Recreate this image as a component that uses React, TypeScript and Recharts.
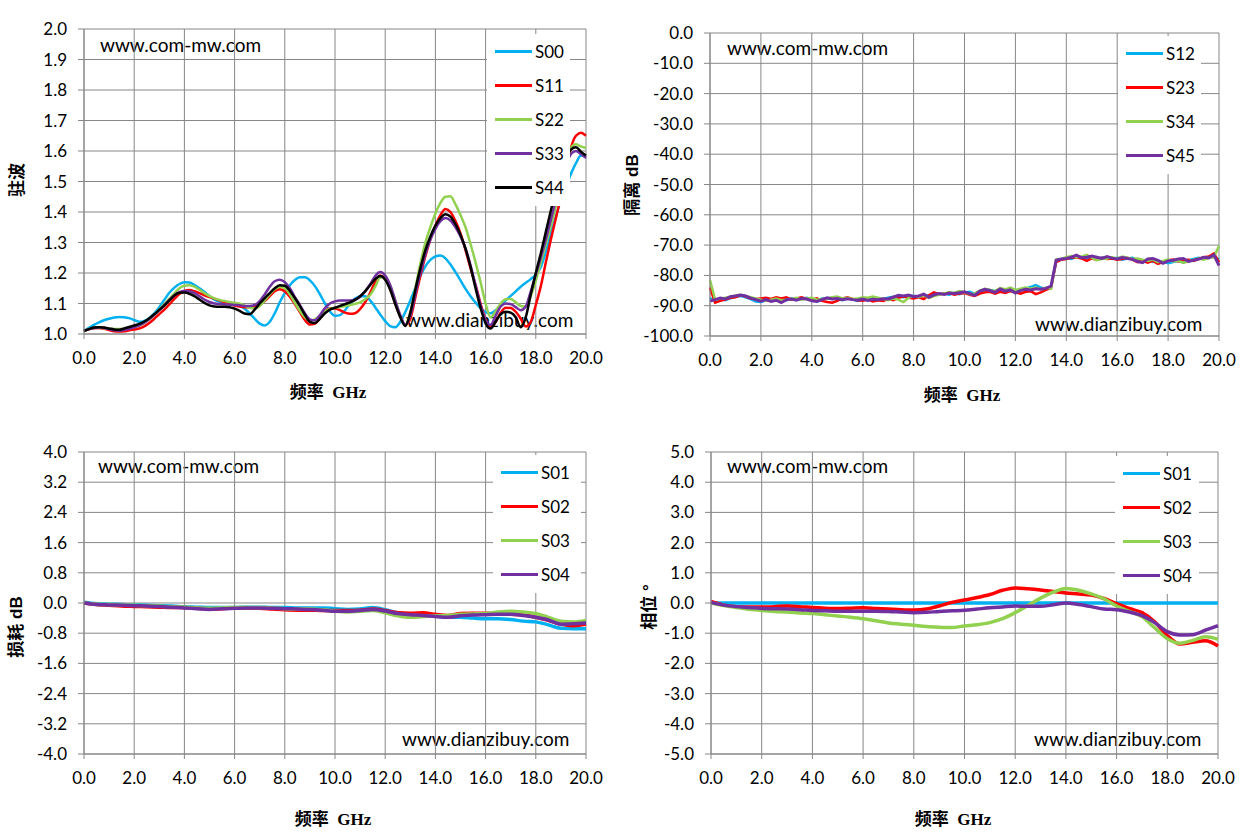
import React from 'react';
import { LineChart, Line, XAxis, YAxis, CartesianGrid, Legend } from 'recharts';

// frequency grid (GHz) used by the VSWR and isolation plots
const FREQ_A = [
  0, 0.2, 0.4, 0.6, 0.8, 1, 1.2, 1.4, 1.6, 1.8,
  2, 2.2, 2.4, 2.6, 2.8, 3, 3.2, 3.4, 3.6, 3.8,
  4, 4.2, 4.4, 4.6, 4.8, 5, 5.2, 5.4, 5.6, 5.8,
  6, 6.2, 6.4, 6.6, 6.8, 7, 7.2, 7.4, 7.6, 7.8,
  8, 8.2, 8.4, 8.6, 8.8, 9, 9.2, 9.4, 9.6, 9.8,
  10, 10.2, 10.4, 10.6, 10.8, 11, 11.2, 11.4, 11.6, 11.8,
  12, 12.2, 12.4, 12.6, 12.8, 13, 13.2, 13.4, 13.6, 13.8,
  14, 14.2, 14.4, 14.6, 14.8, 15, 15.2, 15.4, 15.6, 15.8,
  16, 16.2, 16.4, 16.6, 16.8, 17, 17.2, 17.4, 17.6, 17.8,
  18, 18.2, 18.4, 18.6, 18.8, 19, 19.2, 19.4, 19.6, 19.8,
  20,
];

// VSWR
const S00 = [
  1.010, 1.020, 1.030, 1.038, 1.045, 1.050, 1.054, 1.056, 1.055, 1.052,
  1.046, 1.040, 1.043, 1.052, 1.068, 1.088, 1.112, 1.135, 1.152, 1.164,
  1.170, 1.169, 1.161, 1.150, 1.138, 1.124, 1.113, 1.106, 1.102, 1.099,
  1.096, 1.092, 1.083, 1.068, 1.050, 1.034, 1.028, 1.040, 1.068, 1.104,
  1.135, 1.160, 1.177, 1.186, 1.186, 1.176, 1.157, 1.130, 1.100, 1.074,
  1.060, 1.062, 1.078, 1.100, 1.116, 1.124, 1.124, 1.110, 1.088, 1.064,
  1.042, 1.026, 1.022, 1.040, 1.072, 1.110, 1.150, 1.190, 1.222, 1.243,
  1.254, 1.257, 1.248, 1.228, 1.203, 1.176, 1.148, 1.124, 1.103, 1.085,
  1.072, 1.068, 1.078, 1.094, 1.110, 1.125, 1.140, 1.155, 1.168, 1.180,
  1.195, 1.220, 1.270, 1.330, 1.385, 1.440, 1.485, 1.525, 1.560, 1.585,
  1.580,
];
const S11 = [
  1.010, 1.016, 1.019, 1.020, 1.017, 1.013, 1.009, 1.008, 1.009, 1.012,
  1.015, 1.018, 1.025, 1.036, 1.050, 1.065, 1.080, 1.097, 1.115, 1.131,
  1.141, 1.144, 1.140, 1.134, 1.127, 1.121, 1.116, 1.110, 1.104, 1.098,
  1.093, 1.090, 1.088, 1.088, 1.090, 1.096, 1.108, 1.124, 1.140, 1.147,
  1.140, 1.122, 1.098, 1.072, 1.046, 1.031, 1.034, 1.052, 1.074, 1.084,
  1.084, 1.078, 1.070, 1.066, 1.068, 1.082, 1.104, 1.135, 1.170, 1.192,
  1.182, 1.148, 1.100, 1.058, 1.030, 1.050, 1.120, 1.190, 1.255, 1.310,
  1.355, 1.390, 1.410, 1.400, 1.370, 1.330, 1.275, 1.215, 1.160, 1.100,
  1.045, 1.022, 1.040, 1.070, 1.086, 1.085, 1.073, 1.050, 1.025, 1.040,
  1.095, 1.157, 1.235, 1.310, 1.380, 1.450, 1.530, 1.610, 1.650, 1.660,
  1.650,
];
const S22 = [
  1.010, 1.016, 1.020, 1.021, 1.019, 1.017, 1.016, 1.016, 1.018, 1.021,
  1.024, 1.028, 1.036, 1.048, 1.063, 1.080, 1.098, 1.116, 1.133, 1.150,
  1.158, 1.160, 1.155, 1.145, 1.134, 1.124, 1.117, 1.112, 1.108, 1.105,
  1.102, 1.099, 1.093, 1.086, 1.084, 1.092, 1.110, 1.130, 1.147, 1.155,
  1.150, 1.130, 1.102, 1.076, 1.055, 1.045, 1.048, 1.060, 1.074, 1.082,
  1.086, 1.089, 1.092, 1.095, 1.099, 1.104, 1.114, 1.128, 1.155, 1.185,
  1.186, 1.158, 1.110, 1.060, 1.030, 1.070, 1.150, 1.230, 1.300, 1.350,
  1.395, 1.430, 1.450, 1.452, 1.425, 1.390, 1.350, 1.295, 1.235, 1.170,
  1.100, 1.055, 1.075, 1.100, 1.114, 1.115, 1.104, 1.092, 1.090, 1.125,
  1.175, 1.235, 1.295, 1.355, 1.420, 1.480, 1.550, 1.610, 1.622, 1.615,
  1.610,
];
const S33 = [
  1.010, 1.016, 1.020, 1.022, 1.020, 1.016, 1.012, 1.011, 1.013, 1.017,
  1.022, 1.028, 1.037, 1.049, 1.063, 1.078, 1.095, 1.112, 1.127, 1.137,
  1.141, 1.140, 1.134, 1.124, 1.113, 1.105, 1.100, 1.098, 1.097, 1.096,
  1.095, 1.094, 1.092, 1.092, 1.095, 1.108, 1.130, 1.155, 1.173, 1.178,
  1.170, 1.150, 1.122, 1.095, 1.068, 1.048, 1.045, 1.062, 1.085, 1.100,
  1.107, 1.110, 1.110, 1.110, 1.113, 1.122, 1.140, 1.163, 1.190, 1.203,
  1.192, 1.160, 1.110, 1.062, 1.030, 1.060, 1.130, 1.200, 1.262, 1.310,
  1.345, 1.370, 1.380, 1.372, 1.350, 1.320, 1.280, 1.225, 1.160, 1.095,
  1.045, 1.030, 1.060, 1.090, 1.100, 1.098, 1.088, 1.078, 1.090, 1.140,
  1.195, 1.250, 1.310, 1.374, 1.440, 1.500, 1.550, 1.590, 1.600, 1.590,
  1.577,
];
const S44 = [
  1.010, 1.016, 1.021, 1.022, 1.021, 1.018, 1.015, 1.014, 1.018, 1.023,
  1.028, 1.033, 1.041, 1.052, 1.065, 1.079, 1.093, 1.110, 1.126, 1.135,
  1.136, 1.132, 1.124, 1.113, 1.102, 1.094, 1.090, 1.089, 1.089, 1.088,
  1.083, 1.076, 1.067, 1.065, 1.080, 1.100, 1.118, 1.134, 1.150, 1.160,
  1.158, 1.142, 1.118, 1.092, 1.063, 1.040, 1.036, 1.050, 1.068, 1.080,
  1.086, 1.092, 1.098, 1.104, 1.112, 1.124, 1.140, 1.160, 1.180, 1.190,
  1.178, 1.145, 1.098, 1.055, 1.026, 1.070, 1.145, 1.215, 1.275, 1.320,
  1.355, 1.380, 1.393, 1.385, 1.360, 1.325, 1.280, 1.220, 1.150, 1.085,
  1.035, 1.018, 1.040, 1.065, 1.073, 1.070, 1.055, 1.022, 1.055, 1.130,
  1.200, 1.265, 1.335, 1.405, 1.470, 1.530, 1.575, 1.605, 1.612, 1.598,
  1.585,
];

// isolation, dB
const S12 = [
  -87.5, -88.4, -87.8, -88.2, -87.6, -87.0, -86.8, -87.2, -87.8, -88.6,
  -88.8, -88.2, -88.4, -88.0, -88.6, -88.2, -87.6, -88.0, -87.8, -87.4,
  -88.0, -88.2, -87.6, -87.8, -87.4, -87.8, -88.2, -87.6, -87.9, -88.4,
  -88.0, -88.0, -87.6, -88.2, -87.8, -87.4, -87.0, -86.8, -87.2, -86.6,
  -86.8, -87.0, -86.4, -86.8, -85.8, -86.2, -86.0, -86.4, -85.8, -86.2,
  -85.6, -85.4, -86.0, -85.4, -85.0, -84.8, -85.2, -84.6, -84.8, -84.4,
  -85.2, -84.8, -84.4, -83.8, -83.2, -84.0, -84.6, -83.8, -75.4, -74.8,
  -74.2, -74.6, -73.8, -74.0, -74.4, -74.0, -74.6, -74.2, -74.0, -74.6,
  -74.2, -74.8, -74.4, -74.2, -75.0, -75.4, -75.0, -75.6, -75.2, -75.4,
  -76.0, -75.6, -75.2, -75.8, -75.0, -74.6, -74.2, -74.6, -73.8, -73.6,
  -74.8,
];
const S23 = [
  -84.0, -89.0, -88.4, -88.0, -87.4, -87.2, -86.6, -87.0, -87.6, -87.8,
  -87.6, -87.4, -87.8, -87.2, -87.6, -87.2, -88.0, -87.6, -87.2, -87.8,
  -88.0, -87.6, -88.4, -88.8, -89.0, -88.4, -87.6, -87.2, -87.8, -88.2,
  -88.4, -88.0, -88.6, -88.2, -88.4, -87.8, -88.2, -87.4, -87.0, -87.4,
  -87.6, -87.2, -87.8, -86.6, -85.6, -86.2, -86.0, -85.8, -86.4, -86.0,
  -85.8, -86.4, -86.8, -86.0, -85.6, -85.4, -86.0, -85.4, -85.8, -85.2,
  -85.6, -86.0, -85.4, -85.2, -86.2, -85.6, -84.8, -84.2, -75.6, -74.8,
  -74.6, -74.2, -74.0, -74.4, -75.2, -74.4, -74.8, -74.2, -74.6, -74.4,
  -74.8, -74.6, -74.2, -74.8, -75.6, -75.2, -75.8, -75.2, -76.2, -75.6,
  -75.0, -74.8, -75.4, -75.0, -74.8, -75.2, -74.6, -74.0, -73.8, -72.8,
  -75.6,
];
const S34 = [
  -81.5, -88.0, -87.6, -87.4, -87.0, -86.6, -86.4, -86.8, -87.2, -87.6,
  -88.0, -88.4, -88.0, -87.6, -88.2, -88.0, -87.8, -87.4, -88.0, -87.6,
  -87.4, -88.0, -87.8, -87.6, -87.2, -87.0, -87.6, -87.4, -87.8, -87.6,
  -87.2, -87.4, -87.0, -87.4, -87.8, -88.2, -87.6, -88.0, -88.8, -87.4,
  -86.8, -87.2, -86.6, -87.4, -86.8, -86.4, -86.0, -85.6, -85.8, -85.2,
  -85.6, -86.2, -86.0, -85.0, -84.4, -84.8, -85.2, -84.2, -84.6, -84.0,
  -84.8, -84.4, -84.0, -84.4, -84.0, -84.6, -84.0, -84.4, -74.8, -74.6,
  -74.0, -73.6, -74.0, -73.8, -73.2, -74.2, -75.0, -74.6, -74.4, -74.0,
  -74.4, -73.8, -74.2, -74.6, -74.4, -74.8, -75.2, -74.8, -75.6, -75.2,
  -74.8, -75.4, -75.2, -75.8, -75.4, -74.8, -74.4, -74.8, -74.2, -74.0,
  -70.2,
];
const S45 = [
  -88.5, -88.0, -87.5, -87.8, -87.0, -86.8, -86.5, -86.8, -87.5, -88.0,
  -88.5, -88.0, -88.6, -88.2, -89.0, -88.0, -87.8, -88.2, -87.6, -87.8,
  -88.4, -88.6, -88.0, -87.4, -87.8, -87.6, -88.0, -87.7, -88.0, -88.2,
  -87.8, -88.3, -87.9, -88.0, -87.7, -87.8, -87.2, -86.6, -86.8, -86.5,
  -87.0, -86.8, -86.2, -87.2, -86.4, -86.0, -86.3, -85.8, -86.0, -85.7,
  -85.4, -86.0, -86.6, -85.2, -84.6, -85.0, -85.6, -84.5, -85.2, -84.8,
  -85.8, -85.0, -84.6, -84.8, -84.4, -84.6, -84.3, -83.5, -75.0, -74.6,
  -74.4, -74.0, -73.3, -74.2, -74.0, -73.6, -74.0, -74.4, -73.8, -74.3,
  -74.6, -74.1, -74.4, -74.7, -75.4, -75.8, -74.6, -74.4, -75.0, -76.0,
  -75.2, -75.0, -74.6, -74.4, -75.4, -75.0, -74.6, -74.0, -74.2, -73.2,
  -76.8,
];

// coarser grid for the loss and phase plots
const FREQ_B = [
  0, 0.5, 1, 1.5, 2, 2.5, 3, 3.5, 4, 4.5,
  5, 5.5, 6, 6.5, 7, 7.5, 8, 8.5, 9, 9.5,
  10, 10.5, 11, 11.5, 12, 12.5, 13, 13.5, 14, 14.5,
  15, 15.5, 16, 16.5, 17, 17.5, 18, 18.5, 19, 19.5,
  20,
];

// insertion loss, dB
const L01 = [
  0.02, -0.02, -0.03, -0.04, -0.05, -0.06, -0.07, -0.08, -0.10, -0.11,
  -0.12, -0.12, -0.12, -0.11, -0.11, -0.12, -0.12, -0.13, -0.13, -0.13,
  -0.15, -0.17, -0.16, -0.12, -0.18, -0.26, -0.30, -0.33, -0.35, -0.37,
  -0.38, -0.40, -0.42, -0.42, -0.44, -0.48, -0.50, -0.58, -0.67, -0.68,
  -0.68,
];
const L02 = [
  0.00, -0.04, -0.06, -0.08, -0.09, -0.10, -0.11, -0.12, -0.12, -0.14,
  -0.16, -0.15, -0.13, -0.13, -0.14, -0.16, -0.18, -0.19, -0.19, -0.20,
  -0.20, -0.20, -0.19, -0.16, -0.20, -0.26, -0.27, -0.26, -0.30, -0.33,
  -0.28, -0.27, -0.27, -0.28, -0.30, -0.32, -0.38, -0.46, -0.56, -0.60,
  -0.56,
];
const L03 = [
  0.00, -0.03, -0.04, -0.05, -0.06, -0.07, -0.08, -0.10, -0.11, -0.13,
  -0.14, -0.13, -0.12, -0.12, -0.12, -0.13, -0.15, -0.16, -0.16, -0.18,
  -0.22, -0.24, -0.22, -0.20, -0.26, -0.34, -0.38, -0.36, -0.34, -0.33,
  -0.30, -0.29, -0.28, -0.24, -0.22, -0.24, -0.28, -0.38, -0.48, -0.50,
  -0.46,
];
const L04 = [
  0.00, -0.04, -0.05, -0.06, -0.07, -0.08, -0.09, -0.11, -0.13, -0.15,
  -0.17, -0.15, -0.14, -0.13, -0.13, -0.14, -0.15, -0.16, -0.17, -0.19,
  -0.22, -0.22, -0.20, -0.17, -0.21, -0.28, -0.31, -0.33, -0.36, -0.38,
  -0.34, -0.32, -0.31, -0.30, -0.30, -0.33, -0.38, -0.45, -0.56, -0.55,
  -0.53,
];

// phase, degrees
const P01 = [
  0, 0, 0, 0, 0, 0, 0, 0, 0, 0,
  0, 0, 0, 0, 0, 0, 0, 0, 0, 0,
  0, 0, 0, 0, 0, 0, 0, 0, 0, 0,
  0, 0, 0, 0, 0, 0, 0, 0, 0, 0,
  0,
];
const P02 = [
  0.05, -0.07, -0.12, -0.13, -0.13, -0.12, -0.10, -0.12, -0.15, -0.17,
  -0.18, -0.17, -0.16, -0.18, -0.20, -0.22, -0.23, -0.20, -0.10, 0.02,
  0.10, 0.18, 0.28, 0.42, 0.50, 0.47, 0.43, 0.38, 0.33, 0.30,
  0.26, 0.15, -0.02, -0.18, -0.32, -0.62, -1.08, -1.36, -1.30, -1.25,
  -1.42,
];
const P03 = [
  0.00, -0.08, -0.15, -0.21, -0.25, -0.28, -0.30, -0.33, -0.35, -0.39,
  -0.43, -0.47, -0.52, -0.59, -0.66, -0.70, -0.74, -0.78, -0.80, -0.81,
  -0.76, -0.72, -0.65, -0.52, -0.32, -0.08, 0.16, 0.36, 0.48, 0.42,
  0.30, 0.14, -0.10, -0.28, -0.45, -0.82, -1.18, -1.33, -1.24, -1.12,
  -1.20,
];
const P04 = [
  0.02, -0.07, -0.12, -0.15, -0.18, -0.19, -0.20, -0.22, -0.25, -0.26,
  -0.27, -0.27, -0.27, -0.27, -0.28, -0.30, -0.32, -0.31, -0.28, -0.26,
  -0.24, -0.20, -0.16, -0.13, -0.10, -0.11, -0.11, -0.06, 0.00, -0.05,
  -0.12, -0.20, -0.22, -0.30, -0.42, -0.65, -0.95, -1.06, -1.05, -0.90,
  -0.75,
];

const X_TICKS = [0, 2, 4, 6, 8, 10, 12, 14, 16, 18, 20];
const VSWR_TICKS = [1.0, 1.1, 1.2, 1.3, 1.4, 1.5, 1.6, 1.7, 1.8, 1.9, 2.0];
const ISO_TICKS = [0, -10, -20, -30, -40, -50, -60, -70, -80, -90, -100];
const LOSS_TICKS = [4.0, 3.2, 2.4, 1.6, 0.8, 0, -0.8, -1.6, -2.4, -3.2, -4.0];
const PHASE_TICKS = [5, 4, 3, 2, 1, 0, -1, -2, -3, -4, -5];

const CYAN = '#00b0f0';
const RED = '#ff0000';
const GREEN = '#92d050';
const PURPLE = '#7030a0';
const BLACK = '#000000';
const GRID = '#878787';
const FONT = 'Lato, "Open Sans", sans-serif';
const TITLE_FONT = '"Liberation Serif", "Noto Sans CJK SC", serif';

const vswrData = FREQ_A.map((f, i) => ({ f, s00: S00[i], s11: S11[i], s22: S22[i], s33: S33[i], s44: S44[i] }));
const isoData = FREQ_A.map((f, i) => ({ f, s12: S12[i], s23: S23[i], s34: S34[i], s45: S45[i] }));
const lossData = FREQ_B.map((f, i) => ({ f, s01: L01[i], s02: L02[i], s03: L03[i], s04: L04[i] }));
const phaseData = FREQ_B.map((f, i) => ({ f, s01: P01[i], s02: P02[i], s03: P03[i], s04: P04[i] }));

type Series = { key: string; name: string; color: string; width: number };
type Box = { left: number; top: number; width: number; height: number };

interface PanelProps {
  box: Box;
  margin: { top: number; right: number; bottom: number; left: number };
  yWidth: number;
  data: Record<string, number>[];
  series: Series[];
  yDomain: [number, number];
  yTicks: number[];
  curve: 'monotone' | 'linear';
  legend: Box;
}

function LegendList({ payload }: any) {
  return (
    <div style={{ background: '#fff', width: '100%', height: '100%' }}>
      {(payload || []).map((p: any) => (
        <div key={p.value} style={{ display: 'flex', alignItems: 'center', height: 34 }}>
          <span style={{ display: 'inline-block', width: 37, height: 3, marginLeft: 8, background: p.color }} />
          <span style={{ marginLeft: 3, fontSize: 17, fontFamily: FONT, color: '#000' }}>{p.value}</span>
        </div>
      ))}
    </div>
  );
}

function Panel({ box, margin, yWidth, data, series, yDomain, yTicks, curve, legend }: PanelProps) {
  const tick = { fill: '#000', fontSize: 17, fontFamily: FONT };
  return (
    <div style={{ position: 'absolute', left: box.left, top: box.top }}>
      <LineChart width={box.width} height={box.height} data={data} margin={margin}>
        <CartesianGrid stroke={GRID} strokeWidth={1} />
        <XAxis
          dataKey="f"
          type="number"
          domain={[0, 20]}
          ticks={X_TICKS}
          tickFormatter={(v: number) => v.toFixed(1)}
          stroke={GRID}
          tick={tick}
          tickSize={5}
          tickMargin={13}
          height={40}
          interval={0}
        />
        <YAxis
          type="number"
          domain={yDomain}
          ticks={yTicks}
          tickFormatter={(v: number) => v.toFixed(1)}
          stroke={GRID}
          tick={tick}
          tickSize={6}
          tickMargin={11}
          width={yWidth}
          interval={0}
          allowDataOverflow
        />
        {series.map((s) => (
          <Line
            key={s.key}
            dataKey={s.key}
            name={s.name}
            type={curve}
            stroke={s.color}
            strokeWidth={s.width}
            dot={false}
            activeDot={false}
            isAnimationActive={false}
          />
        ))}
        <Legend
          layout="horizontal"
          verticalAlign="middle"
          align="center"
          content={<LegendList />}
          wrapperStyle={{
            left: legend.left - box.left,
            top: legend.top - box.top,
            width: legend.width,
            height: legend.height,
          }}
        />
      </LineChart>
    </div>
  );
}

const WATERMARKS = [
  { text: 'www.com-mw.com', x: 100, y: 44 },
  { text: 'www.dianzibuy.com', x: 406, y: 319 },
  { text: 'www.com-mw.com', x: 727, y: 47 },
  { text: 'www.dianzibuy.com', x: 1035, y: 323 },
  { text: 'www.com-mw.com', x: 98, y: 465 },
  { text: 'www.dianzibuy.com', x: 402, y: 738 },
  { text: 'www.com-mw.com', x: 727, y: 465 },
  { text: 'www.dianzibuy.com', x: 1034, y: 738 },
];

const Y_TITLES = [
  { text: '驻波', x: 15, y: 180 },
  { text: '隔离 dB', x: 630, y: 185 },
  { text: '损耗 dB', x: 14, y: 627 },
  { text: '相位 °', x: 647, y: 607 },
];

const X_TITLES = [
  { x: 328, y: 390 },
  { x: 962, y: 393 },
  { x: 333, y: 817 },
  { x: 953, y: 817 },
];

export default function App() {
  return (
    <div style={{ position: 'absolute', left: 0, top: 0, width: 1250, height: 838, background: '#fff' }}>
      {WATERMARKS.map((w, i) => (
        <div
          key={i}
          style={{
            position: 'absolute',
            left: w.x,
            top: w.y,
            transform: 'translateY(-50%)',
            fontFamily: FONT,
            fontSize: 19,
            color: '#000',
            whiteSpace: 'nowrap',
          }}
        >
          {w.text}
        </div>
      ))}

      <Panel
        box={{ left: 0, top: 0, width: 620, height: 415 }}
        margin={{ top: 29, right: 34, bottom: 41, left: 24 }}
        yWidth={60}
        data={vswrData}
        series={[
          { key: 's00', name: 'S00', color: CYAN, width: 2.5 },
          { key: 's11', name: 'S11', color: RED, width: 2.5 },
          { key: 's22', name: 'S22', color: GREEN, width: 2.5 },
          { key: 's33', name: 'S33', color: PURPLE, width: 2.5 },
          { key: 's44', name: 'S44', color: BLACK, width: 2.5 },
        ]}
        yDomain={[1, 2]}
        yTicks={VSWR_TICKS}
        curve="monotone"
        legend={{ left: 487, top: 34, width: 83, height: 172 }}
      />
      <Panel
        box={{ left: 620, top: 0, width: 630, height: 415 }}
        margin={{ top: 33, right: 31, bottom: 39, left: 20 }}
        yWidth={70}
        data={isoData}
        series={[
          { key: 's12', name: 'S12', color: CYAN, width: 2.5 },
          { key: 's23', name: 'S23', color: RED, width: 2.5 },
          { key: 's34', name: 'S34', color: GREEN, width: 2.5 },
          { key: 's45', name: 'S45', color: PURPLE, width: 3 },
        ]}
        yDomain={[-100, 0]}
        yTicks={ISO_TICKS}
        curve="linear"
        legend={{ left: 1118, top: 36, width: 83, height: 138 }}
      />
      <Panel
        box={{ left: 0, top: 420, width: 620, height: 418 }}
        margin={{ top: 32, right: 34, bottom: 44, left: 24 }}
        yWidth={60}
        data={lossData}
        series={[
          { key: 's01', name: 'S01', color: CYAN, width: 3.5 },
          { key: 's02', name: 'S02', color: RED, width: 3.5 },
          { key: 's03', name: 'S03', color: GREEN, width: 3.5 },
          { key: 's04', name: 'S04', color: PURPLE, width: 3.5 },
        ]}
        yDomain={[-4, 4]}
        yTicks={LOSS_TICKS}
        curve="monotone"
        legend={{ left: 493, top: 455, width: 88, height: 138 }}
      />
      <Panel
        box={{ left: 620, top: 420, width: 630, height: 418 }}
        margin={{ top: 32, right: 32, bottom: 44, left: 21 }}
        yWidth={70}
        data={phaseData}
        series={[
          { key: 's01', name: 'S01', color: CYAN, width: 3.5 },
          { key: 's02', name: 'S02', color: RED, width: 3.5 },
          { key: 's03', name: 'S03', color: GREEN, width: 3.5 },
          { key: 's04', name: 'S04', color: PURPLE, width: 3.5 },
        ]}
        yDomain={[-5, 5]}
        yTicks={PHASE_TICKS}
        curve="monotone"
        legend={{ left: 1115, top: 456, width: 84, height: 138 }}
      />

      {Y_TITLES.map((t, i) => (
        <div
          key={i}
          style={{
            position: 'absolute',
            left: t.x,
            top: t.y,
            transform: 'translate(-50%, -50%) rotate(-90deg)',
            fontFamily: '"Liberation Sans", "Noto Sans CJK SC", sans-serif',
            fontWeight: 700,
            fontSize: 17,
            whiteSpace: 'nowrap',
            color: '#000',
          }}
        >
          {t.text}
        </div>
      ))}
      {X_TITLES.map((t, i) => (
        <div
          key={i}
          style={{
            position: 'absolute',
            left: t.x,
            top: t.y,
            transform: 'translate(-50%, -50%)',
            fontFamily: TITLE_FONT,
            fontWeight: 700,
            fontSize: 17,
            whiteSpace: 'pre',
            color: '#000',
          }}
        >
          {'频率  GHz'}
        </div>
      ))}
    </div>
  );
}
